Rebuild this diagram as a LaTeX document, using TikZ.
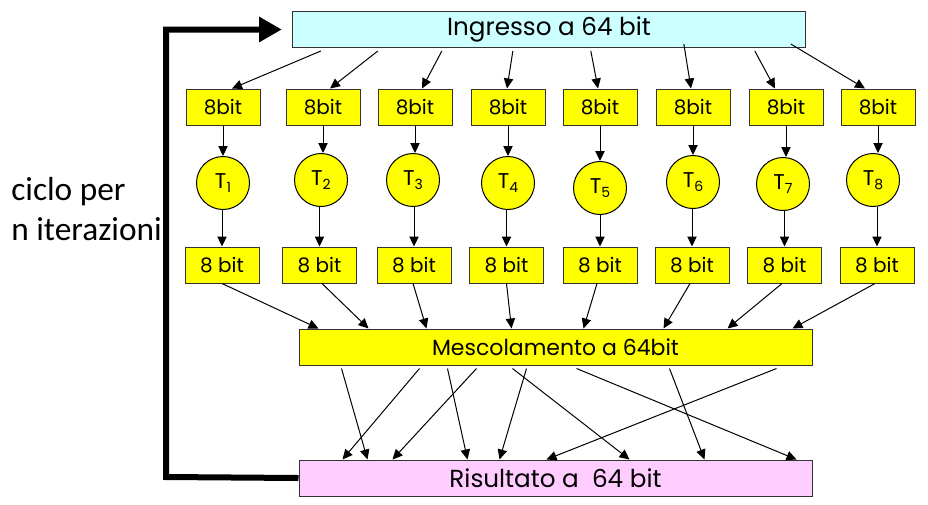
\documentclass[tikz,border=0pt]{standalone}
\usepackage{fontspec}
\setmainfont{Poppins}
\newfontfamily\labfont{Carlito}
\usetikzlibrary{arrows.meta,calc}
\definecolor{boxyellow}{HTML}{FFFF00}
\definecolor{incyan}{HTML}{CCFFFF}
\definecolor{respink}{HTML}{FFCCFF}
\definecolor{edgegray}{HTML}{333333}
\newcommand\tsub[1]{T\raisebox{-0.3ex}{\fontsize{10.5}{10.5}\selectfont #1}}
\tikzset{
  bitbox/.style={draw=edgegray, fill=boxyellow, minimum width=55.5pt, minimum height=27pt,
    inner sep=0pt, line width=0.75pt, font=\fontsize{15}{17}\selectfont},
  tnode/.style={circle, draw=black, fill=boxyellow, minimum size=39.75pt, inner sep=0pt,
    line width=0.75pt, font=\fontsize{16}{17}\selectfont},
  widebox/.style={draw=edgegray, minimum width=385pt, minimum height=27pt, inner sep=0pt,
    line width=0.75pt, font=\fontsize{18.5}{20}\selectfont},
  arr/.style={-{Triangle[length=7.5pt,width=7pt]}, line width=0.75pt},
  fb/.style={line width=4.5pt, -{Triangle[length=17pt,width=18pt]}, line join=miter, shorten >=7.5pt},
  lab/.style={anchor=base west, inner sep=0pt, font=\labfont\fontsize{25}{30}\selectfont}
}
\begin{document}
\begin{tikzpicture}[x=0.75pt,y=-0.75pt]
\useasboundingbox (0,0) rectangle (928,504);
% big boxes
\node[widebox, fill=incyan] (ing) at (549,29.5) {Ingresso a 64 bit};
\node[widebox, fill=boxyellow, minimum width=384.75pt, font=\fontsize{16.5}{18}\selectfont] (mes) at (555.5,347) {Mescolamento a 64bit};
\node[widebox, fill=respink, minimum width=384.75pt] (res) at (555.5,478) {Risultato a \ 64 bit};
% rows
\foreach \i/\x in {1/223,2/323,3/415,4/508,5/600,6/693,7/786,8/878}
  \node[bitbox] (a\i) at (\x,107) {8bit};
\foreach \i/\x/\y in {1/223/183,2/321/180,3/413/180,4/508/183,5/600/188,6/693/182,7/783/184,8/873/180}
  \node[tnode] (t\i) at (\x,\y) {\tsub{\i}};
\foreach \i/\x in {1/222,2/319.5,3/414,4/506.5,5/600,6/692,7/784.5,8/877}
  \node[bitbox] (b\i) at (\x,265) {8 bit};
% arrows from input
\foreach \i/\dx/\dy/\ex in {1/29/3/9,2/86/3/7,3/150/3/7,4/221/3/-1,5/299/3/-2,6/392/-4/-2,7/463/3/-11,8/499/-4/-13}
  \draw[arr] ($(ing.south west)+(\dx,\dy)$) -- ($(a\i.north)+(\ex,0)$);
% through T boxes
\foreach \i in {1,...,8}{
  \draw[arr] (a\i.south) -- (a\i.south |- t\i.north);
  \draw[arr] (b\i.north |- t\i.south) -- (b\i.north);
}
% to mixing
\foreach \i/\sx/\ex in {1/0/20,2/2.5/70,3/-1/128,4/0/213,5/-3/285,6/-2/365,7/-2.5/429,8/-2/494}
  \draw[arr] ($(b\i.south)+(\sx,0)$) -- ($(mes.north west)+(\ex,0)$);
% to result
\foreach \sx/\ex in {43/69,121/44,149/169,178/94,228/201,214/331,278/498,371/406,478/248}
  \draw[arr] ($(mes.south west)+(\sx,3)$) -- ($(res.north west)+(\ex,0)$);
% feedback loop
\coordinate (cb) at (166,477);
\coordinate (ct) at (166,29.5);
\draw[fb] (res.west) -- (cb) -- (ct) -- (ing.west);
% label
\node[lab] (lab1) at (11,200) {ciclo per};
\node[lab] (lab2) at (11,240) {n iterazioni};
\end{tikzpicture}
\end{document}
